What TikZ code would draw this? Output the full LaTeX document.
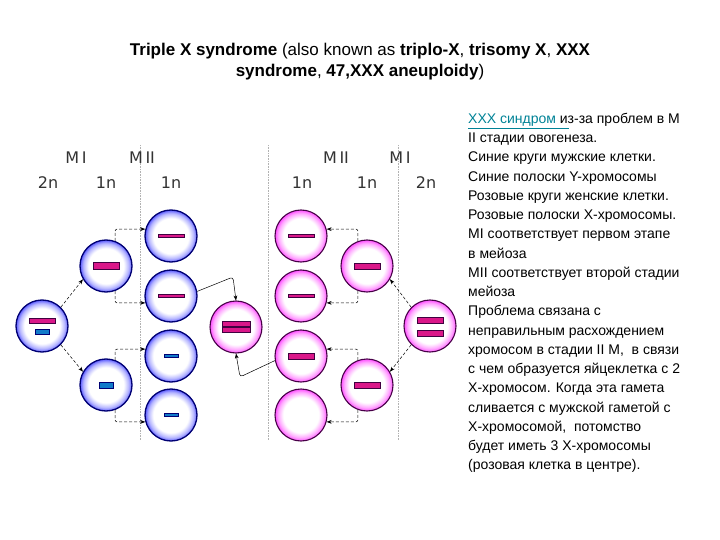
\documentclass[tikz,border=0pt]{standalone}
\usepackage{fontspec}
\setmainfont{Liberation Sans}
\setsansfont{DejaVu Sans}
\usetikzlibrary{arrows.meta}
\definecolor{linkc}{RGB}{0,130,150}
\pgfdeclareradialshading{bsh}{\pgfpoint{0bp}{0bp}}{color(0bp)=(white); color(17bp)=(white); color(22bp)=(blue!30); color(25bp)=(blue!65); color(50bp)=(blue!65)}
\pgfdeclareradialshading{psh}{\pgfpoint{0bp}{0bp}}{color(0bp)=(white); color(17bp)=(white); color(22bp)=(magenta!35); color(25bp)=(magenta!70); color(50bp)=(magenta!70)}
\begin{document}
\begin{tikzpicture}[x=1pt,y=-1pt,
  bc/.style={circle,minimum size=52pt,inner sep=0pt,draw=blue!45!black,line width=1.3pt,shading=bsh},
  pc/.style={circle,minimum size=52pt,inner sep=0pt,draw=violet!55!black,line width=1.1pt,shading=psh},
  pthick/.style={rectangle,minimum width=36pt,minimum height=7pt,inner sep=0pt,fill=magenta!80!violet,draw=violet!50!black,line width=0.8pt},
  pthin/.style={rectangle,minimum width=30pt,minimum height=3pt,inner sep=0pt,fill=magenta!80!violet,draw=violet!50!black,line width=0.5pt},
  bthick/.style={rectangle,minimum width=20pt,minimum height=6pt,inner sep=0pt,fill=cyan!60!blue,draw=blue!45!black,line width=0.7pt},
  bthin/.style={rectangle,minimum width=16pt,minimum height=3pt,inner sep=0pt,fill=cyan!60!blue,draw=blue!45!black,line width=0.5pt},
  arr/.style={densely dashed,line width=0.5pt,-{Stealth[length=5pt]}},
  arrc/.style={line width=0.5pt,-{Stealth[length=5pt]}},
  lab/.style={font=\sffamily\fontsize{16}{16}\selectfont,text=black!80},
  guide/.style={gray!60,densely dotted,line width=0.6pt},
  txt/.style={anchor=north west,font=\fontsize{14}{19.25}\selectfont,align=left,inner sep=0pt}]
\useasboundingbox (0,0) rectangle (720,540);
% guides
\draw[guide] (140,145) -- (140,440);
\draw[guide] (268,145) -- (268,440);
\draw[guide] (398,145) -- (398,440);
% title
\node[font=\fontsize{17}{21}\selectfont,align=center] (title) at (360,62)
 {\textbf{Triple X syndrome} (also known as \textbf{triplo-X}, \textbf{trisomy X}, \textbf{XXX}\\\textbf{syndrome}, \textbf{47,XXX aneuploidy})};
% labels
\node[lab] (l1) at (76,158) {M\,I};
\node[lab] (l2) at (142,158) {M\,II};
\node[lab] (l3) at (48,183) {2n};
\node[lab] (l4) at (106,183) {1n};
\node[lab] (l5) at (171,183) {1n};
\node[lab] (r1) at (336,158) {M\,II};
\node[lab] (r2) at (400,158) {M\,I};
\node[lab] (r3) at (302,183) {1n};
\node[lab] (r4) at (367,183) {1n};
\node[lab] (r5) at (426,183) {2n};
% left cells
\node[bc] (L0) at (42,326) {};
\node[pthick,minimum width=26pt,minimum height=5pt] (L0a) at (42,321) {};
\node[bthick,minimum width=14pt,minimum height=5pt] (L0b) at (42,332) {};
\node[bc] (L1) at (106,266) {};
\node[pthick,minimum width=26pt] at (106,266) {};
\node[bc] (L2) at (106,385) {};
\node[bthick,minimum width=14pt] at (106,385) {};
\node[bc] (M1) at (171,236) {};
\node[pthin,minimum width=26pt] at (171,236) {};
\node[bc] (M2) at (171,296) {};
\node[pthin,minimum width=26pt] at (171,296) {};
\node[bc] (M3) at (171,356) {};
\node[bthin,minimum width=14pt] at (171,356) {};
\node[bc] (M4) at (171,415) {};
\node[bthin,minimum width=14pt] at (171,415) {};
% center
\node[pc] (C) at (236,327) {};
\node[pthick,minimum width=28pt,minimum height=5pt] at (236,324) {};
\node[pthick,minimum width=28pt,minimum height=5pt] at (236,330) {};
% right cells
\node[pc] (N1) at (301,236) {};
\node[pthin,minimum width=26pt] at (301,236) {};
\node[pc] (N2) at (301,296) {};
\node[pthin,minimum width=26pt] at (301,296) {};
\node[pc] (N3) at (301,356) {};
\node[pthick,minimum width=26pt,minimum height=6pt] at (301,356) {};
\node[pc] (N4) at (301,415) {};
\node[pc] (R1) at (367,266) {};
\node[pthick,minimum width=26pt,minimum height=6pt] at (367,266) {};
\node[pc] (R2) at (367,385) {};
\node[pthick,minimum width=26pt,minimum height=6pt] at (367,385) {};
\node[pc] (R0) at (430,326) {};
\node[pthick,minimum width=26pt,minimum height=6pt] at (430,320) {};
\node[pthick,minimum width=26pt,minimum height=6pt] at (430,333) {};
% arrows left
\draw[arr] (L0.45) -- (L1.210);
\draw[arr] (L0.-45) -- (L2.150);
\draw[arr,rounded corners=2pt] (L1.70) |- (M1.165);
\draw[arr,rounded corners=2pt] (L1.-70) |- (M2.195);
\draw[arr,rounded corners=2pt] (L2.70) |- (M3.165);
\draw[arr,rounded corners=2pt] (L2.-70) |- (M4.195);
% arrows right
\draw[arr] (R0.135) -- (R1.-30);
\draw[arr] (R0.-135) -- (R2.30);
\draw[arr,rounded corners=2pt] (R1.110) |- (N1.15);
\draw[arr,rounded corners=2pt] (R1.-110) |- (N2.-15);
\draw[arr,rounded corners=2pt] (R2.110) |- (N3.15);
\draw[arr,rounded corners=2pt] (R2.-110) |- (N4.-15);
% center arrows
\coordinate (ca) at (233,277);
\coordinate (cb) at (240,377);
\draw[arrc,rounded corners=3pt] (M2.10) -- (ca) -- (C.north);
\draw[arrc,rounded corners=3pt] (N3.190) -- (cb) -- (C.south);
% description
\node[txt] (desc) at (468,113) {{\color{linkc}XXX синдром} из-за проблем в М\\
II стадии овогенеза.\\
Синие круги мужские клетки.\\
Синие полоски Y-хромосомы\\
Розовые круги женские клетки.\\
Розовые полоски X-хромосомы.\\
MI соответствует первом этапе\\
в мейоза\\
MII соответствует второй стадии\\
мейоза\\
Проблема связана с\\
неправильным расхождением\\
хромосом в стадии II M,\ \ в связи\\
с чем образуется яйцеклетка с 2\\
X-хромосом. Когда эта гамета\\
сливается с мужской гаметой с\\
X-хромосомой,\ \ потомство\\
будет иметь 3 X-хромосомы\\
(розовая клетка в центре).};
\draw[linkc,line width=0.5pt] (468,128) -- (569,128);
\end{tikzpicture}
\end{document}
